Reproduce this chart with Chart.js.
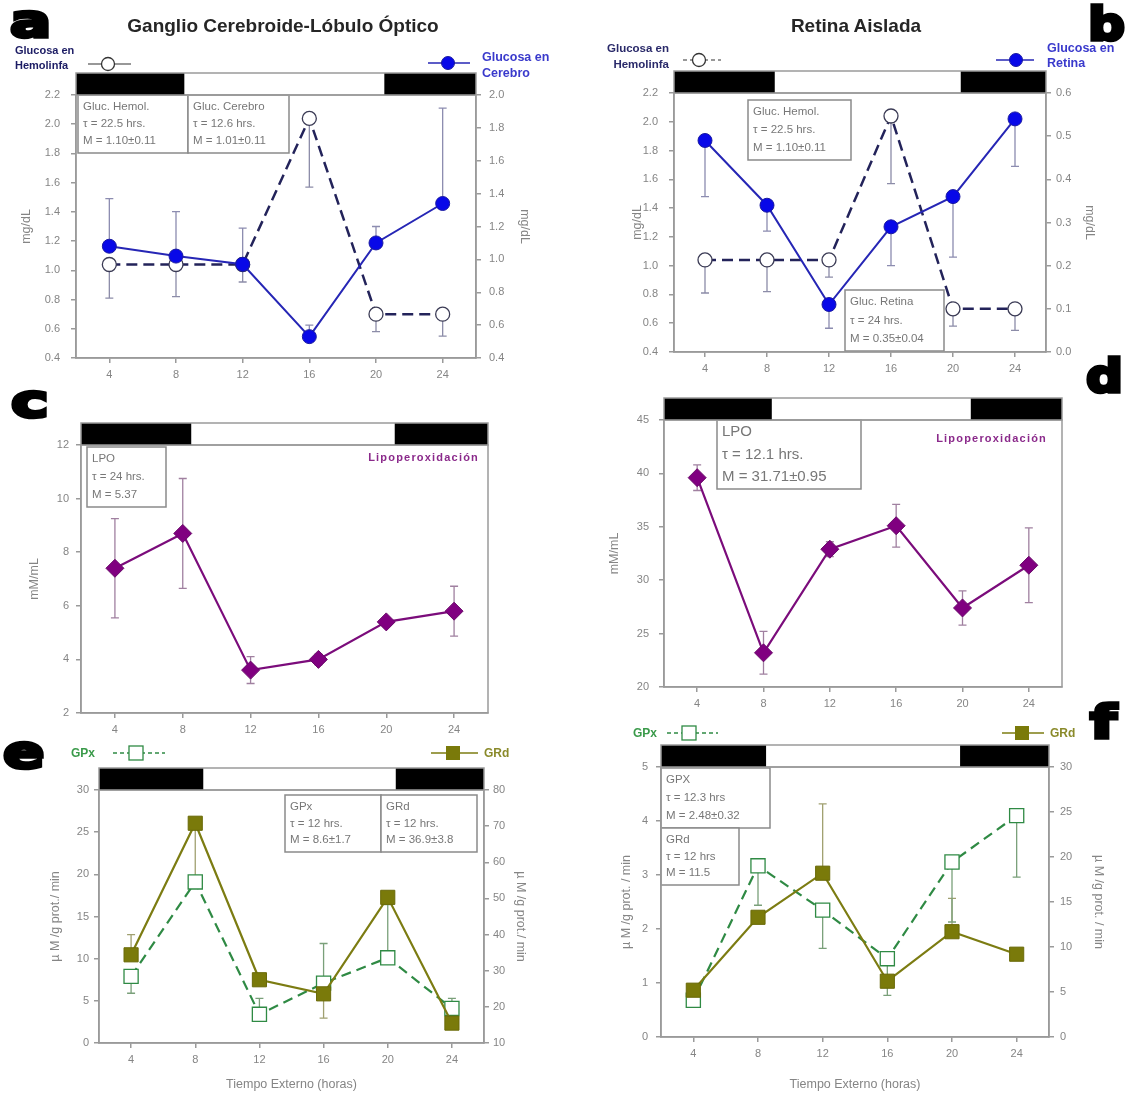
<!DOCTYPE html>
<html>
<head>
<meta charset="utf-8">
<script src="https://cdn.jsdelivr.net/npm/chart.js@4.4.0/dist/chart.umd.min.js"></script>
<style>
  body { margin: 0; width: 1131px; height: 1095px; position: relative; background: #fff; overflow: hidden; }
  canvas { position: absolute; }
  #anot { position: absolute; left: 0; top: 0; font-family: 'Liberation Sans', Arial, sans-serif; }
  .letra { font-family: 'DejaVu Sans'; font-weight: bold; font-size: 47px; fill: #000; stroke: #000; stroke-width: 3.5px; }
  .tit { font-weight: bold; font-size: 19px; fill: #262626; }
  .lipo { font-weight: bold; font-size: 11px; fill: #8b2a8b; letter-spacing: 1.2px; }
</style>
</head>
<body>
<svg id="anot" width="1131" height="1095">
  <!-- letras de panel -->
  <text class="letra" transform="translate(10,37) scale(1.3,1)">a</text>
  <text class="letra" transform="translate(1088,40) scale(1.1,1)">b</text>
  <text class="letra" transform="translate(11,417) scale(1.35,1)">c</text>
  <text class="letra" transform="translate(1086,392) scale(1.1,1)">d</text>
  <text class="letra" transform="translate(3,768) scale(1.3,1)">e</text>
  <text class="letra" transform="translate(1090,738) scale(1.3,1)">f</text>

  <!-- títulos -->
  <text class="tit" x="283" y="25" text-anchor="middle" dominant-baseline="central">Ganglio Cerebroide-Lóbulo Óptico</text>
  <text class="tit" x="856" y="25" text-anchor="middle" dominant-baseline="central">Retina Aislada</text>

  <!-- leyendas a -->
  <g font-size="11" font-weight="bold" fill="#1c1c64" dominant-baseline="central">
    <text x="15" y="50">Glucosa en</text>
    <text x="15" y="65">Hemolinfa</text>
  </g>
  <line x1="88" y1="64" x2="131" y2="64" stroke="#333" stroke-width="1.2"/>
  <circle cx="108" cy="64" r="6.5" fill="#fff" stroke="#333" stroke-width="1.3"/>
  <line x1="428" y1="63" x2="470" y2="63" stroke="#2626b5" stroke-width="1.5"/>
  <circle cx="448" cy="63" r="6.5" fill="#0808e8" stroke="#1a1aa0"/>
  <g font-size="12.5" font-weight="bold" fill="#3a3acc" dominant-baseline="central">
    <text x="482" y="57">Glucosa en</text>
    <text x="482" y="73">Cerebro</text>
  </g>

  <!-- leyendas b -->
  <g font-size="11.5" font-weight="bold" fill="#2a2a6a" text-anchor="end" dominant-baseline="central">
    <text x="669" y="48">Glucosa en</text>
    <text x="669" y="64">Hemolinfa</text>
  </g>
  <line x1="683" y1="60" x2="721" y2="60" stroke="#333" stroke-width="1.2" stroke-dasharray="4 3"/>
  <circle cx="699" cy="60" r="6.5" fill="#fff" stroke="#333" stroke-width="1.3"/>
  <line x1="996" y1="60" x2="1034" y2="60" stroke="#2626b5" stroke-width="1.5"/>
  <circle cx="1016" cy="60" r="6.5" fill="#0808e8" stroke="#1a1aa0"/>
  <g font-size="12.5" font-weight="bold" fill="#3a3acc" dominant-baseline="central">
    <text x="1047" y="48">Glucosa en</text>
    <text x="1047" y="63">Retina</text>
  </g>

  <!-- Lipoperoxidación -->
  <text class="lipo" x="479" y="457" text-anchor="end" dominant-baseline="central">Lipoperoxidación</text>
  <text class="lipo" x="1047" y="438" text-anchor="end" dominant-baseline="central">Lipoperoxidación</text>

  <!-- leyendas e -->
  <text x="71" y="753" font-size="12" font-weight="bold" fill="#3a9a4a" dominant-baseline="central">GPx</text>
  <line x1="113" y1="753" x2="165" y2="753" stroke="#2f8a44" stroke-width="1.3" stroke-dasharray="4 3"/>
  <rect x="129" y="746" width="14" height="14" fill="#fff" stroke="#2f8a44" stroke-width="1.3"/>
  <line x1="431" y1="753" x2="478" y2="753" stroke="#7c7c12" stroke-width="1.5"/>
  <rect x="446" y="746" width="14" height="14" fill="#7a7a0a"/>
  <text x="484" y="753" font-size="12" font-weight="bold" fill="#8a8a2a" dominant-baseline="central">GRd</text>

  <!-- leyendas f -->
  <text x="633" y="733" font-size="12" font-weight="bold" fill="#3a9a4a" dominant-baseline="central">GPx</text>
  <line x1="667" y1="733" x2="718" y2="733" stroke="#2f8a44" stroke-width="1.3" stroke-dasharray="4 3"/>
  <rect x="682" y="726" width="14" height="14" fill="#fff" stroke="#2f8a44" stroke-width="1.3"/>
  <line x1="1002" y1="733" x2="1044" y2="733" stroke="#7c7c12" stroke-width="1.5"/>
  <rect x="1015" y="726" width="14" height="14" fill="#7a7a0a"/>
  <text x="1050" y="733" font-size="12" font-weight="bold" fill="#8a8a2a" dominant-baseline="central">GRd</text>
</svg>
<script>
// Tiempo externo (horas)
const horas = [4, 8, 12, 16, 20, 24];
// Fotoperiodo: tramos de oscuridad (horas)
const oscuridad = [[2, 8.5], [20.5, 26]];

// a / b: glucosa (mg/dL)
const glucHemolinfa = [1.04, 1.04, 1.04, 2.04, 0.70, 0.70];
const glucHemolinfaErr = [0.23, 0.22, 0.12, 0.47, 0.12, 0.15];
const glucCerebro = [1.08, 1.02, 0.97, 0.53, 1.10, 1.34];
const glucCerebroErr = [0.29, 0.27, 0.22, 0.07, 0.10, 0.58];
const glucRetina = [0.49, 0.34, 0.11, 0.29, 0.36, 0.54];
const glucRetinaErr = [0.13, 0.06, 0.055, 0.09, 0.14, 0.11];

// c / d: lipoperoxidación (mM/mL)
const lpoCerebro = [7.4, 8.7, 3.6, 4.0, 5.4, 5.8];
const lpoCerebroErr = [1.85, 2.05, 0.5, 0.2, 0.15, 0.93];
const lpoRetina = [39.6, 23.2, 32.9, 35.1, 27.4, 31.4];
const lpoRetinaErr = [1.2, 2.0, 0.7, 2.0, 1.6, 3.5];

// e / f: GPx y GRd (µM/g prot./min)
const gpxCerebro = [7.9, 19.1, 3.4, 7.1, 10.1, 4.1];
const gpxCerebroErrSup = [0, 0, 1.9, 4.7, 6.3, 1.2];
const gpxCerebroErrInf = [2.0, 0, 0, 0, 0, 0];
const grdCerebro = [34.4, 70.8, 27.5, 23.6, 50.3, 15.5];
const grdCerebroErrSup = [5.6, 0, 0, 0, 0, 0];
const grdCerebroErrInf = [0, 16, 0, 6.7, 0, 0];
const gpxRetina = [0.68, 3.17, 2.35, 1.45, 3.24, 4.10];
const gpxRetinaErrInf = [0, 0.73, 0.71, 0.68, 1.11, 1.14];
const grdRetina = [5.2, 13.3, 18.2, 6.2, 11.7, 9.2];
const grdRetinaErrSup = [0, 0, 7.7, 0, 3.7, 0];

const GRIS = '#9a9a9a';
const GRIS_TXT = '#858585';
const FUENTE = "'Liberation Sans', Arial, sans-serif";
Chart.defaults.font.family = FUENTE;
Chart.defaults.color = GRIS_TXT;

function puntos(vals) {
    return horas.map((h, i) => ({ x: h, y: vals[i] }));
}

// Series con estilo
function serieHemolinfa() {
    return { data: puntos(glucHemolinfa), yAxisID: 'y', errInf: glucHemolinfaErr, errColor: '#8c8ca8',
        borderColor: '#23235a', borderWidth: 2.5, borderDash: [11, 6], pointStyle: 'circle', pointRadius: 7,
        pointBackgroundColor: '#fff', pointBorderColor: '#3b3b55', pointBorderWidth: 1.3 };
}
function serieAzul(vals, err) {
    return { data: puntos(vals), yAxisID: 'y1', errColor: '#8c8cb0', ...err,
        borderColor: '#2626b5', borderWidth: 2, pointStyle: 'circle', pointRadius: 7,
        pointBackgroundColor: '#0808e8', pointBorderColor: '#1a1aa0', pointBorderWidth: 1 };
}
function serieLpo(vals, err) {
    return { data: puntos(vals), yAxisID: 'y', errSup: err, errInf: err, errColor: '#a080a0',
        borderColor: '#7b0c7b', borderWidth: 2.2, pointStyle: 'rectRot', pointRadius: 9,
        pointBackgroundColor: '#800080', pointBorderColor: '#6a0a6a', pointBorderWidth: 1 };
}
function serieGpx(vals, err, eje) {
    return { data: puntos(vals), yAxisID: eje, errColor: '#7aa07a', ...err,
        borderColor: '#2f8a44', borderWidth: 2.2, borderDash: [10, 6], pointStyle: 'rect', pointRadius: 10,
        pointBackgroundColor: '#fff', pointBorderColor: '#2f8a44', pointBorderWidth: 1.3 };
}
function serieGrd(vals, err, eje) {
    return { data: puntos(vals), yAxisID: eje, errColor: '#a0a070', ...err,
        borderColor: '#7c7c12', borderWidth: 2.2, pointStyle: 'rect', pointRadius: 10,
        pointBackgroundColor: '#7a7a0a', pointBorderColor: '#6a6a08', pointBorderWidth: 1 };
}

const paneles = [
    {
        caja: { left: 0, top: 60, width: 560, height: 330 },
        area: { left: 76, top: 95, right: 476, bottom: 358 },
        y: { min: 0.4, max: 2.2, step: 0.2, dec: 1, pad: 11, titulo: 'mg/dL', tOff: 27 },
        y1: { min: 0.4, max: 2.0, step: 0.2, dec: 1, pad: 8, titulo: 'mg/dL', tOff: 36 },
        series: [serieAzul(glucCerebro, { errSup: glucCerebroErr }), serieHemolinfa()],
        cajasTexto: [
            { x0: 78, y0: 95, x1: 188, y1: 153, fs: 11.5, lineas: ['Gluc. Hemol.', 'τ = 22.5 hrs.', 'M = 1.10±0.11'] },
            { x0: 188, y0: 95, x1: 289, y1: 153, fs: 11.5, lineas: ['Gluc. Cerebro', 'τ = 12.6 hrs.', 'M = 1.01±0.11'] }
        ]
    },
    {
        caja: { left: 560, top: 60, width: 571, height: 330 },
        area: { left: 674, top: 93, right: 1046, bottom: 352 },
        y: { min: 0.4, max: 2.2, step: 0.2, dec: 1, pad: 11, titulo: 'mg/dL', tOff: 78 },
        y1: { min: 0.0, max: 0.6, step: 0.1, dec: 1, pad: 5, titulo: 'mg/dL', tOff: 42 },
        series: [serieAzul(glucRetina, { errInf: glucRetinaErr }), serieHemolinfa()],
        cajasTexto: [
            { x0: 748, y0: 100, x1: 851, y1: 160, fs: 11.5, lineas: ['Gluc. Hemol.', 'τ = 22.5 hrs.', 'M = 1.10±0.11'] },
            { x0: 845, y0: 290, x1: 944, y1: 351, fs: 11.5, lineas: ['Gluc. Retina', 'τ = 24 hrs.', 'M = 0.35±0.04'] }
        ]
    },
    {
        caja: { left: 0, top: 410, width: 560, height: 335 },
        area: { left: 81, top: 445, right: 488, bottom: 713 },
        y: { min: 2, max: 12, step: 2, dec: 0, pad: 7, titulo: 'mM/mL', tOff: 35 },
        series: [serieLpo(lpoCerebro, lpoCerebroErr)],
        cajasTexto: [
            { x0: 87, y0: 447, x1: 166, y1: 507, fs: 11.5, lineas: ['LPO', 'τ = 24 hrs.', 'M = 5.37'] }
        ]
    },
    {
        caja: { left: 560, top: 385, width: 571, height: 340 },
        area: { left: 664, top: 420, right: 1062, bottom: 687 },
        y: { min: 20, max: 45, step: 5, dec: 0, pad: 10, titulo: 'mM/mL', tOff: 55 },
        series: [serieLpo(lpoRetina, lpoRetinaErr)],
        cajasTexto: [
            { x0: 717, y0: 420, x1: 861, y1: 489, fs: 15, lineas: ['LPO', 'τ = 12.1 hrs.', 'M = 31.71±0.95'] }
        ]
    },
    {
        caja: { left: 0, top: 760, width: 560, height: 335 },
        area: { left: 99, top: 790, right: 484, bottom: 1043 },
        y: { min: 0, max: 30, step: 5, dec: 0, pad: 5, titulo: 'µ M /g prot./ min', tOff: 56 },
        y1: { min: 10, max: 80, step: 10, dec: 0, pad: 4, titulo: 'µ M /g prot./ min', tOff: 40 },
        xTitulo: 'Tiempo Externo (horas)',
        series: [
            serieGrd(grdCerebro, { errSup: grdCerebroErrSup, errInf: grdCerebroErrInf }, 'y1'),
            serieGpx(gpxCerebro, { errSup: gpxCerebroErrSup, errInf: gpxCerebroErrInf }, 'y')
        ],
        cajasTexto: [
            { x0: 285, y0: 795, x1: 381, y1: 852, fs: 11.5, lineas: ['GPx', 'τ = 12 hrs.', 'M = 8.6±1.7'] },
            { x0: 381, y0: 795, x1: 477, y1: 852, fs: 11.5, lineas: ['GRd', 'τ = 12 hrs.', 'M = 36.9±3.8'] }
        ]
    },
    {
        caja: { left: 560, top: 740, width: 571, height: 355 },
        area: { left: 661, top: 767, right: 1049, bottom: 1037 },
        y: { min: 0, max: 5, step: 1, dec: 0, pad: 8, titulo: 'µ M /g prot. / min', tOff: 67 },
        y1: { min: 0, max: 30, step: 5, dec: 0, pad: 6, titulo: 'µ M /g prot. / min', tOff: 33 },
        xTitulo: 'Tiempo Externo (horas)',
        series: [
            serieGrd(grdRetina, { errSup: grdRetinaErrSup }, 'y1'),
            serieGpx(gpxRetina, { errInf: gpxRetinaErrInf }, 'y')
        ],
        cajasTexto: [
            { x0: 661, y0: 768, x1: 770, y1: 828, fs: 11.5, lineas: ['GPX', 'τ = 12.3 hrs', 'M = 2.48±0.32'] },
            { x0: 661, y0: 828, x1: 739, y1: 885, fs: 11.5, lineas: ['GRd', 'τ = 12 hrs', 'M = 11.5'] }
        ]
    }
];

function ejeX(alto, titulo) {
    return {
        type: 'linear', min: 2, max: 26,
        afterBuildTicks: s => { s.ticks = horas.map(v => ({ value: v })); },
        ticks: { color: GRIS_TXT, font: { size: 11 }, padding: 5 },
        grid: { drawOnChartArea: false, tickLength: 5, color: GRIS, lineWidth: 1.5 },
        border: { color: GRIS, width: 1.5 },
        title: titulo
            ? { display: true, text: titulo, color: GRIS_TXT, font: { size: 12.5 }, padding: { top: 0, bottom: 2.5 } }
            : { display: false },
        afterFit: s => { s.height = alto; }
    };
}

function ejeY(pos, e, ancho) {
    const fs = 12.5;
    return {
        type: 'linear', position: pos, min: e.min, max: e.max,
        ticks: { stepSize: e.step, color: GRIS_TXT, font: { size: 11 }, padding: e.pad, callback: v => v.toFixed(e.dec) },
        grid: { drawOnChartArea: false, tickLength: 5, color: GRIS, lineWidth: 1.5 },
        border: { color: GRIS, width: 1.5 },
        title: { display: true, text: e.titulo, color: GRIS_TXT, font: { size: fs }, padding: { top: e.tOff - fs * 0.6, bottom: 0 } },
        afterFit: s => { s.width = ancho; }
    };
}

// Plugin: barras de error, cajas de texto, marco y barra de fotoperiodo
function decoracion(p) {
    return {
        id: 'decoracion',
        beforeDatasetsDraw(chart) {
            const ctx = chart.ctx;
            const xs = chart.scales.x;
            ctx.save();
            // cajas de texto
            p.cajasTexto.forEach(c => {
                const x0 = c.x0 - p.caja.left, y0 = c.y0 - p.caja.top;
                const w = c.x1 - c.x0, h = c.y1 - c.y0;
                ctx.fillStyle = '#fff';
                ctx.fillRect(x0, y0, w, h);
                ctx.strokeStyle = '#8a8a8a';
                ctx.lineWidth = 1.5;
                ctx.strokeRect(x0, y0, w, h);
                ctx.fillStyle = '#777';
                ctx.font = `${c.fs}px ${FUENTE}`;
                ctx.textBaseline = 'middle';
                const paso = (h - 24) / 2;
                c.lineas.forEach((t, i) => ctx.fillText(t, x0 + 5, y0 + 12 + i * paso));
            });
            // barras de error
            chart.data.datasets.forEach(ds => {
                const ys = chart.scales[ds.yAxisID];
                ctx.strokeStyle = ds.errColor;
                ctx.lineWidth = 1.3;
                ds.data.forEach((pt, i) => {
                    const x = xs.getPixelForValue(pt.x);
                    const y = ys.getPixelForValue(pt.y);
                    [[ds.errSup, 1], [ds.errInf, -1]].forEach(([arr, s]) => {
                        if (!arr || !arr[i]) return;
                        const ye = ys.getPixelForValue(pt.y + s * arr[i]);
                        ctx.beginPath();
                        ctx.moveTo(x, y);
                        ctx.lineTo(x, ye);
                        ctx.moveTo(x - 4, ye);
                        ctx.lineTo(x + 4, ye);
                        ctx.stroke();
                    });
                });
            });
            ctx.restore();
        },
        afterDraw(chart) {
            const ctx = chart.ctx;
            const a = chart.chartArea;
            const xs = chart.scales.x;
            const alto = 22;
            ctx.save();
            ctx.strokeStyle = GRIS;
            ctx.lineWidth = 1.5;
            ctx.strokeRect(a.left, a.top, a.right - a.left, a.bottom - a.top);
            ctx.fillStyle = '#000';
            oscuridad.forEach(([i, f]) => {
                const x0 = xs.getPixelForValue(i), x1 = xs.getPixelForValue(f);
                ctx.fillRect(x0, a.top - alto, x1 - x0, alto);
            });
            ctx.strokeRect(a.left, a.top - alto, a.right - a.left, alto);
            ctx.restore();
        }
    };
}

paneles.forEach(p => {
    const cv = document.createElement('canvas');
    cv.width = p.caja.width;
    cv.height = p.caja.height;
    cv.style.left = p.caja.left + 'px';
    cv.style.top = p.caja.top + 'px';
    document.body.insertBefore(cv, document.getElementById('anot'));

    const scales = {
        x: ejeX(p.caja.top + p.caja.height - p.area.bottom, p.xTitulo),
        y: ejeY('left', p.y, p.area.left - p.caja.left)
    };
    const derecha = p.caja.left + p.caja.width - p.area.right;
    if (p.y1) scales.y1 = ejeY('right', p.y1, derecha);

    new Chart(cv, {
        type: 'line',
        data: { datasets: p.series },
        options: {
            responsive: false,
            animation: false,
            layout: { padding: { top: p.area.top - p.caja.top, left: 0, bottom: 0, right: p.y1 ? 0 : derecha } },
            plugins: { legend: { display: false }, tooltip: { enabled: false } },
            scales
        },
        plugins: [decoracion(p)]
    });
});
</script>
</body>
</html>
